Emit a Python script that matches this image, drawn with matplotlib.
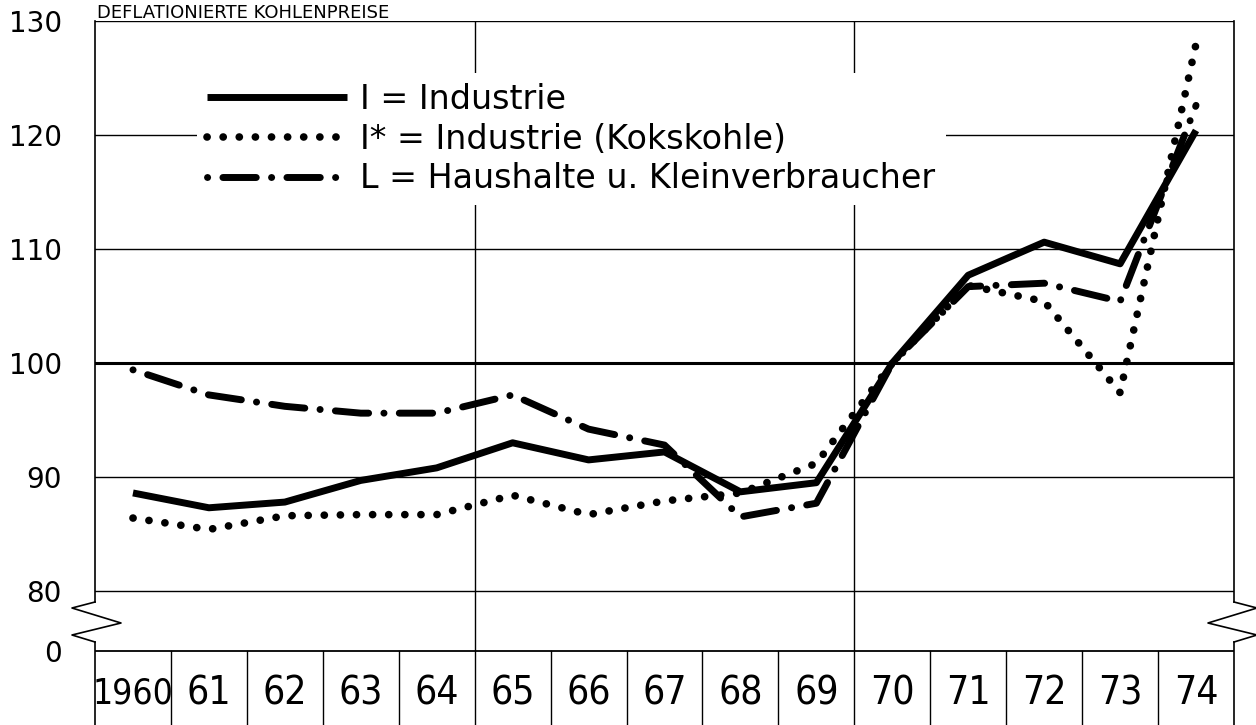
import matplotlib
matplotlib.use('Agg')
import matplotlib.pyplot as plt
import matplotlib.font_manager as fm
import numpy as np

# deflated coal price index, 1970 = 100
years = ['1960', '61', '62', '63', '64', '65', '66', '67', '68', '69',
         '70', '71', '72', '73', '74']
industrie = [88.6, 87.3, 87.8, 89.7, 90.8, 93.0, 91.5, 92.2, 88.7, 89.5,
             100.0, 107.7, 110.6, 108.7, 120.4]
kokskohle = [86.4, 85.4, 86.6, 86.7, 86.7, 88.4, 86.7, 87.9, 88.6, 91.2,
             100.0, 106.8, 105.4, 97.4, 128.0]
haushalte = [99.4, 97.2, 96.2, 95.6, 95.6, 97.2, 94.2, 92.8, 86.5, 87.7,
             100.0, 106.7, 107.0, 105.4, 122.6]
labels = ['I = Industrie', 'I* = Industrie (Kokskohle)',
          'L = Haushalte u. Kleinverbraucher']
y_ticks = [80, 90, 100, 110, 120, 130]
title = 'DEFLATIONIERTE KOHLENPREISE'

plt.rcParams['lines.scale_dashes'] = False


def find_narrow_font():
    """Returns a path to a condensed/narrow regular face, if one is installed."""
    for f in fm.fontManager.ttflist:
        tag = (f.name + ' ' + str(f.stretch)).lower()
        if ('narrow' in tag or 'condensed' in tag) and f.style == 'normal' \
                and f.weight in (400, 'normal', 'regular'):
            return f.fname
    return None


narrow_path = find_narrow_font()


def year_font(label):
    size = 25.5 if len(label) > 2 else 28
    if narrow_path:
        return fm.FontProperties(fname=narrow_path, size=size)
    return fm.FontProperties(family='DejaVu Sans', size=size - 4)


W, H = 1256, 725
fig = plt.figure(figsize=(W / 100, H / 100), dpi=100)
ax = fig.add_axes([95 / W, 0, 1139 / W, (H - 21) / H])

px_per_unit = 11.4
y_top = 130
y_bottom = y_top - (H - 21) / px_per_unit
y_zero = 80 - 60 / px_per_unit  # where the "0" line sits after the axis break
n = len(years)
ax.set_xlim(-0.5, n - 0.5)
ax.set_ylim(y_bottom, y_top)
for s in ax.spines.values():
    s.set_visible(False)
ax.set_xticks([])
ax.set_yticks(y_ticks + [y_zero])
ax.set_yticklabels([str(t) for t in y_ticks] + ['0'], fontsize=20)
ax.tick_params(axis='y', length=0, pad=24)

# horizontal rules
for t in y_ticks:
    lw = 2.2 if t == 100 else 1.0
    ax.axhline(t, color='black', lw=lw, zorder=1)
ax.axhline(y_zero, color='black', lw=1.3, zorder=1)

# vertical rules: two full-height ones, the rest only in the year row
for b in np.arange(0.5, n - 1, 1.0):
    top = y_top if b in (4.5, 9.5) else y_zero
    ax.plot([b, b], [y_bottom, top], color='black', lw=1.0, zorder=1)

# outer verticals with axis-break zigzags
dx = 1 / 75.93
dy = 1 / px_per_unit
br_top = 80 - 11 * dy
br_bot = y_zero + 9 * dy
zig_x = np.array([0, -23, 26, -23, 0]) * dx
zig_y = [br_top, 80 - 17 * dy, 80 - 32 * dy, 80 - 44 * dy, br_bot]
for edge, sign in ((-0.5, 1), (n - 0.5, -1)):
    ax.plot([edge, edge], [y_top, br_top], color='black', lw=1.2, zorder=1,
            clip_on=False)
    ax.plot([edge, edge], [br_bot, y_bottom], color='black', lw=1.2, zorder=1,
            clip_on=False)
    ax.plot(edge + sign * zig_x, zig_y, color='black', lw=1.2, zorder=1,
            clip_on=False)

for i, lab in enumerate(years):
    ax.text(i, 80 - 102 * dy, lab, ha='center', va='center',
            fontproperties=year_font(lab))

x = np.arange(n)
ax.plot(x, industrie, color='black', lw=5, solid_joinstyle='round',
        solid_capstyle='butt', zorder=3, label=labels[0])
ax.plot(x, kokskohle, color='black', lw=5.5, dashes=(0.1, 11.5),
        dash_capstyle='round', zorder=3, label=labels[1])
ax.plot(x, haushalte, color='black', lw=5, dashes=(0.1, 11, 24, 11),
        dash_capstyle='round', zorder=3, label=labels[2])

leg = ax.legend(loc='upper left', bbox_to_anchor=(0.075, 0.95),
                fontsize=24, handlelength=4.2, handletextpad=0.4,
                labelspacing=0.2, borderpad=0.3, frameon=True,
                facecolor='white', edgecolor='none', framealpha=1)
leg.set_zorder(2)

fig.text(97 / W, 1 - 4 / H, title, fontsize=13, va='top', ha='left')

fig.savefig('out.png', dpi=100)
